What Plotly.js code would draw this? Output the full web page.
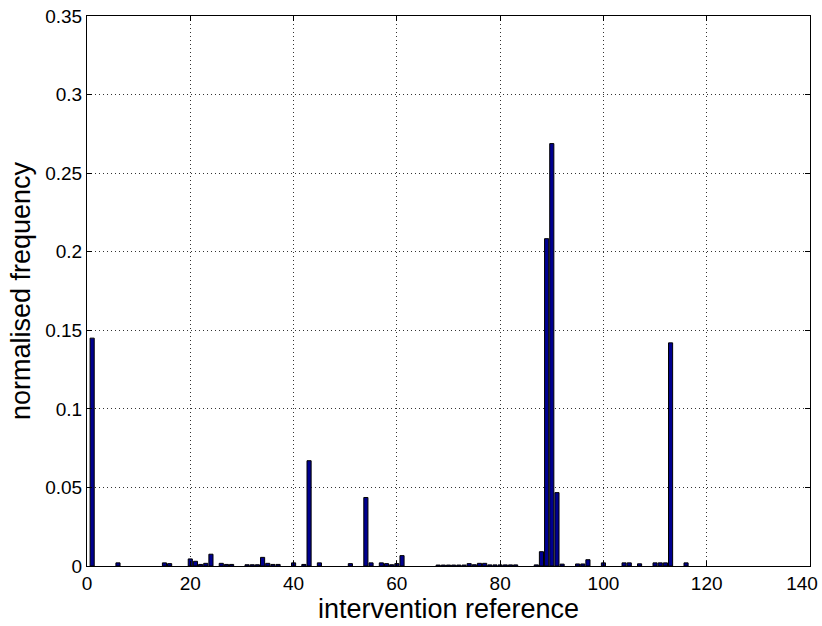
<!DOCTYPE html>
<html>
<head>
<meta charset="utf-8">
<script src="https://cdn.plot.ly/plotly-3.0.1.min.js"></script>
<style>html,body{margin:0;padding:0;background:#fff;}#chart{width:822px;height:626px;}</style>
</head>
<body>
<div id="chart"></div>
<script>
// intervention reference indices
var interventions = [1, 6, 15, 16, 20, 21, 22, 23, 24, 26, 27, 28, 31, 32, 33, 34, 35, 36, 37,
  40, 42, 43, 45, 51, 54, 55, 57, 58, 59, 60, 61,
  68, 69, 70, 71, 72, 73, 74, 75, 76, 77, 78, 79, 80, 81, 82, 83,
  87, 88, 89, 90, 91, 92, 95, 96, 97, 100, 104, 105, 107, 110, 111, 112, 113, 116];
// normalised frequency values
var frequencies = [0.145, 0.002, 0.002, 0.0015, 0.0045, 0.003, 0.001, 0.0017, 0.0075, 0.0017, 0.001, 0.001, 0.0008, 0.0008, 0.0008, 0.0055, 0.0017, 0.001, 0.001,
  0.002, 0.001, 0.067, 0.002, 0.0015, 0.0436, 0.002, 0.002, 0.0015, 0.0008, 0.0015, 0.0066,
  0.0006, 0.0006, 0.0006, 0.0006, 0.0006, 0.0006, 0.0015, 0.0008, 0.0017, 0.0017, 0.0007, 0.0007, 0.0007, 0.0007, 0.0007, 0.0007,
  0.0007, 0.0091, 0.2083, 0.2688, 0.0467, 0.0012, 0.0013, 0.0013, 0.004, 0.002, 0.002, 0.002, 0.0014, 0.002, 0.002, 0.002, 0.142, 0.002];
var xTicks = [0, 20, 40, 60, 80, 100, 120, 140];
var xTickLabels = ['0', '20', '40', '60', '80', '100', '120', '140\u00a0\u00a0\u00a0'];
var yTicks = [0, 0.05, 0.1, 0.15, 0.2, 0.25, 0.3, 0.35];
var yTickLabels = ['0', '0.05', '0.1', '0.15', '0.2', '0.25', '0.3', '0.35'];

var trace = {
  type: 'bar',
  x: interventions,
  y: frequencies,
  width: 0.8,
  marker: {color: '#00008F', line: {color: '#000000', width: 1}},
  hoverinfo: 'x+y'
};

var FONT = 'Liberation Sans, Arial, sans-serif';
var axisCommon = {
  showline: true, mirror: 'ticks', linecolor: '#000', linewidth: 1,
  ticks: 'inside', ticklen: 5, tickcolor: '#000',
  showgrid: true, gridcolor: '#333', griddash: '1px,3px', gridwidth: 1,
  zeroline: false, ticklabeloverflow: 'allow',
  tickfont: {family: FONT, size: 19, color: '#000'}
};

var layout = {
  width: 822, height: 626,
  margin: {l: 87, r: 12, t: 16, b: 60},
  paper_bgcolor: '#fff', plot_bgcolor: '#fff',
  showlegend: false,
  bargap: 0,
  xaxis: Object.assign({}, axisCommon, {
    range: [0, 140], tickvals: xTicks, ticktext: xTickLabels,
    title: {text: 'intervention reference', standoff: 0,
      font: {family: FONT, size: 27, color: '#000'}}
  }),
  yaxis: Object.assign({}, axisCommon, {
    range: [0, 0.35], tickvals: yTicks, ticktext: yTickLabels,
    title: {text: 'normalised frequency', standoff: 6,
      font: {family: FONT, size: 27, color: '#000'}}
  })
};

Plotly.newPlot('chart', [trace], layout, {displayModeBar: false, staticPlot: true});
</script>
</body>
</html>
